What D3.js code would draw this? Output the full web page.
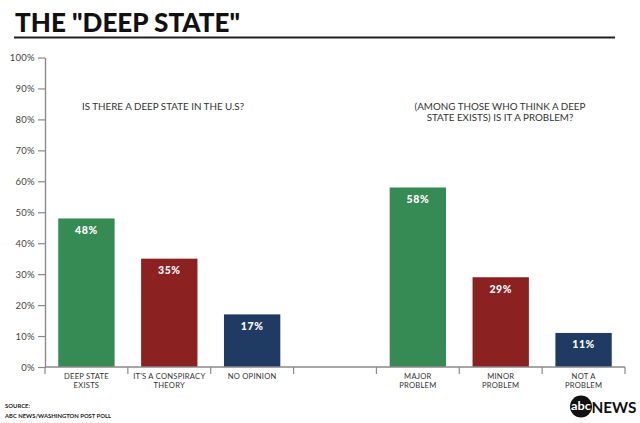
<!DOCTYPE html>
<html><head><meta charset="utf-8">
<script src="https://cdn.jsdelivr.net/npm/d3@7"></script>
<style>
html,body{margin:0;padding:0;background:#fff;}
svg{display:block;}
text{font-family:"Lato","Open Sans",sans-serif;}
</style></head>
<body>
<svg id="chart" width="640" height="423"></svg>
<script>
const categories = ["DEEP STATE|EXISTS","IT'S A CONSPIRACY|THEORY","NO OPINION","","MAJOR|PROBLEM","MINOR|PROBLEM","NOT A|PROBLEM"];
const values = [48, 35, 17, null, 58, 29, 11];
const barColors = ["#368a54","#8c2121","#1f3b64",null,"#368a54","#8c2121","#1f3b64"];
const yTicks = [0,10,20,30,40,50,60,70,80,90,100];
const questionLeft = ["IS THERE A DEEP STATE IN THE U.S?"];
const questionRight = ["(AMONG THOSE WHO THINK A DEEP","STATE EXISTS) IS IT A PROBLEM?"];
const title = 'THE "DEEP STATE"';
const sourceLines = ["SOURCE:","ABC NEWS/WASHINGTON POST POLL"];

const svg = d3.select("#chart");
const X0 = 45, X1 = 625, Y0 = 367, Y1 = 57.5;

// title
svg.append("text").attr("x",15).attr("y",31.5)
  .attr("font-size",26).attr("font-weight",900).attr("fill","#111")
  .attr("textLength",225).attr("lengthAdjust","spacingAndGlyphs")
  .text(title);
svg.append("line").attr("x1",14).attr("x2",615).attr("y1",37.5).attr("y2",37.5)
  .attr("stroke","#222").attr("stroke-width",1.8);

const x = d3.scaleBand().domain(d3.range(categories.length)).range([X0,X1])
  .paddingInner(0.32).paddingOuter(0.16);
const y = d3.scaleLinear().domain([0,100]).range([Y0,Y1]);

// y axis
const yAxis = d3.axisLeft(y).tickValues(yTicks).tickFormat(d=>d+"%").tickSize(7).tickSizeOuter(0).tickPadding(3);
const gy = svg.append("g").attr("transform",`translate(${X0},0)`).call(yAxis);
gy.select(".domain").attr("stroke","#8a8a8a").attr("stroke-width",1.4);
gy.selectAll(".tick line").attr("stroke","#8a8a8a").attr("stroke-width",1.2);
gy.selectAll(".tick text").attr("font-size",9.5).attr("fill","#444").attr("font-family","Lato")
  .attr("letter-spacing",0.3);

// bars
const data = categories.map((c,i)=>({c, i, v: values[i], col: barColors[i]})).filter(d=>d.v!=null);
svg.selectAll("rect.bar").data(data).enter().append("rect").attr("class","bar")
  .attr("x",d=>x(d.i)).attr("width",x.bandwidth())
  .attr("y",d=>y(d.v)).attr("height",d=>y(0)-y(d.v))
  .attr("fill",d=>d.col);
svg.selectAll("text.val").data(data).enter().append("text").attr("class","val")
  .attr("x",d=>x(d.i)+x.bandwidth()/2).attr("y",d=>y(d.v)+15.5)
  .attr("text-anchor","middle").attr("font-size",10.5).attr("font-weight",900)
  .attr("letter-spacing",0.6).attr("fill","#fff").text(d=>d.v+"%");

// x axis
svg.append("line").attr("x1",X0).attr("x2",X1).attr("y1",Y0).attr("y2",Y0)
  .attr("stroke","#8a8a8a").attr("stroke-width",1.4);
const step = x.step();
const bounds = d3.range(categories.length+1).map(k=>X0 + k*step);
svg.selectAll("line.xt").data(bounds).enter().append("line").attr("class","xt")
  .attr("x1",d=>d).attr("x2",d=>d).attr("y1",Y0).attr("y2",Y0+7)
  .attr("stroke","#8a8a8a").attr("stroke-width",1.2);
categories.forEach((c,i)=>{
  if(!c) return;
  const lines = c.split("|");
  const t = svg.append("text").attr("x",x(i)+x.bandwidth()/2).attr("y",379)
    .attr("text-anchor","middle").attr("font-size",7.6).attr("letter-spacing",0.25).attr("fill","#333");
  lines.forEach((l,k)=>t.append("tspan").attr("x",x(i)+x.bandwidth()/2).attr("dy",k?8.6:0).text(l));
});

// questions
svg.append("text").attr("x",82).attr("y",109.5).attr("font-size",9.8).attr("fill","#333")
  .text(questionLeft[0]);
const qr = svg.append("text").attr("text-anchor","middle").attr("font-size",9.8).attr("fill","#333");
questionRight.forEach((l,k)=>qr.append("tspan").attr("x",500).attr("y",109.5+k*11.5).text(l));

// source
svg.append("text").attr("x",5).attr("y",408).attr("font-size",5.8).attr("font-weight",700).attr("fill","#222")
  .attr("textLength",25).attr("lengthAdjust","spacingAndGlyphs").text(sourceLines[0]);
svg.append("text").attr("x",5).attr("y",417.5).attr("font-size",5.8).attr("font-weight",700).attr("fill","#222")
  .attr("textLength",106).attr("lengthAdjust","spacingAndGlyphs").text(sourceLines[1]);

// abc news logo
const lg = svg.append("g");
lg.append("circle").attr("cx",581).attr("cy",406.5).attr("r",11).attr("fill","#111");
lg.append("text").attr("x",581).attr("y",410).attr("text-anchor","middle").attr("font-size",11)
  .attr("font-weight",700).attr("fill","#fff").attr("textLength",20).attr("lengthAdjust","spacingAndGlyphs").text("abc");
lg.append("text").attr("x",591.5).attr("y",412.5).attr("font-size",15.5).attr("font-weight",700)
  .attr("font-family","Liberation Serif, DejaVu Serif, serif").attr("fill","#111")
  .attr("textLength",45).attr("lengthAdjust","spacingAndGlyphs").text("NEWS");
</script>
</body></html>
